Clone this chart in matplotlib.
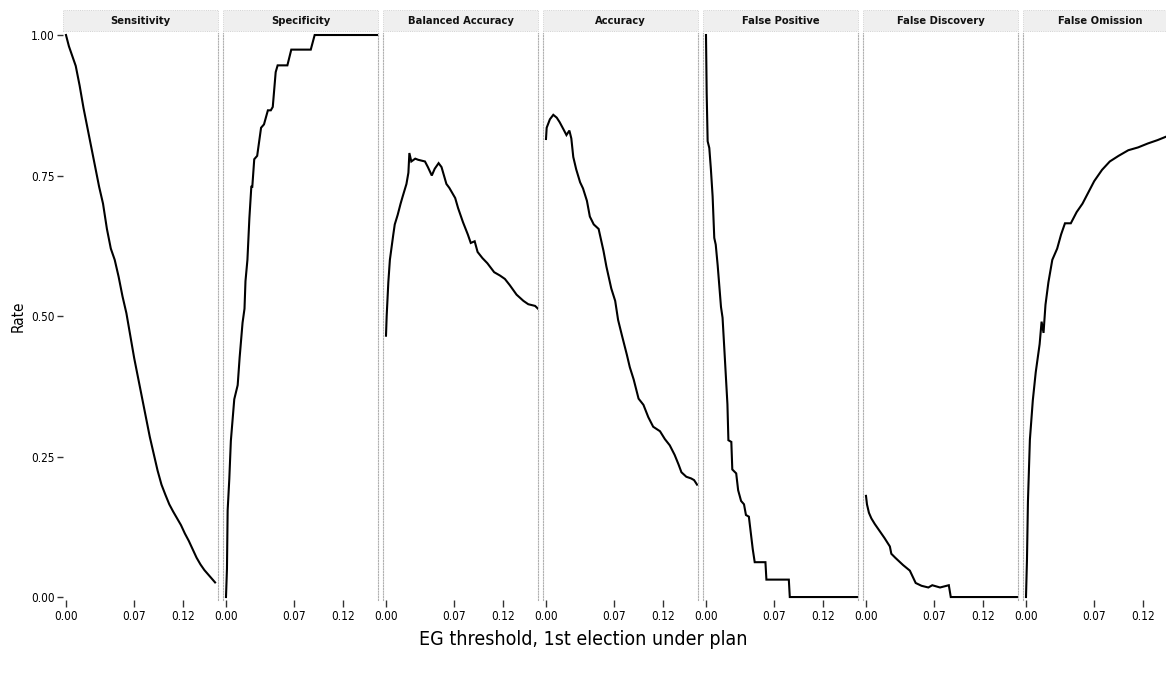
import matplotlib
matplotlib.use("Agg")
import matplotlib.pyplot as plt
from matplotlib.patches import Rectangle

plt.rcParams['font.family'] = ['DejaVu Sans']
plt.rcParams['font.stretch'] = 'condensed'

panels = ['Sensitivity', 'Specificity', 'Balanced Accuracy', 'Accuracy',
          'False Positive', 'False Discovery', 'False Omission']

sens_x = [0, .003, .006, .010, .014, .018, .022, .026, .030, .034, .038, .042, .046, .050,
          .054, .058, .062, .066, .070, .074, .078, .082, .086, .090, .094, .098, .102,
          .106, .110, .114, .118, .122, .126, .130, .134, .138, .142, .146, .150, .153]
sens_y = [1.0, .98, .965, .945, .91, .87, .835, .80, .765, .73, .70, .655, .62, .60,
          .57, .535, .505, .465, .425, .39, .355, .32, .285, .255, .225, .20, .182,
          .165, .152, .14, .128, .113, .10, .085, .07, .058, .048, .04, .032, .026]

spec_x = [0, .001, .0017, .0034, .005, .0085, .012, .014, .017, .019, .020, .022, .024, .026,
          .027, .029, .032, .036, .039, .043, .046, .048, .051, .053, .063, .067, .087, .091, .156]
spec_y = [0, .05, .154, .21, .278, .352, .377, .426, .488, .513, .562, .600, .674, .730,
          .730, .779, .785, .835, .841, .866, .866, .872, .934, .946, .946, .974, .974, 1.0, 1.0]

bal_x = [0, .0007, .0024, .004, .0075, .009, .012, .015, .017, .021, .023, .024, .026, .030,
         .033, .040, .043, .047, .050, .054, .057, .062, .065, .071, .074, .079, .084, .087,
         .091, .094, .099, .104, .111, .117, .122, .127, .134, .141, .146, .153, .156]
bal_y = [.465, .50, .56, .60, .645, .663, .68, .70, .712, .735, .755, .79, .775, .78,
         .778, .775, .765, .75, .762, .772, .765, .735, .728, .71, .692, .667, .645, .63,
         .633, .614, .603, .594, .578, .572, .566, .555, .538, .527, .521, .518, .513]

acc_x = [0, .0007, .004, .0075, .011, .014, .018, .021, .024, .026, .028, .031, .035, .038,
         .042, .045, .049, .054, .059, .062, .067, .071, .074, .078, .083, .086, .090, .095,
         .100, .105, .110, .117, .122, .127, .132, .136, .139, .144, .149, .152, .155]
acc_y = [.815, .835, .85, .858, .853, .845, .832, .822, .83, .816, .783, .761, .738, .727,
         .705, .677, .663, .655, .616, .588, .549, .527, .493, .465, .431, .409, .387, .353,
         .342, .32, .303, .295, .281, .27, .253, .236, .222, .214, .211, .208, .20]

fpos_x = [0, .0007, .0017, .0034, .005, .0068, .0085, .010, .012, .0137, .0154, .017, .019,
          .022, .023, .026, .027, .031, .033, .036, .039, .041, .044, .048, .050, .061, .062,
          .085, .086, .156]
fpos_y = [1.0, .897, .811, .799, .762, .713, .639, .627, .59, .553, .516, .497, .436,
          .343, .279, .276, .227, .22, .19, .171, .165, .146, .143, .085, .062, .062, .031,
          .031, 0, 0]

fdis_x = [0, .001, .003, .0055, .009, .013, .019, .0245, .026, .030, .038, .045, .051, .057,
          .064, .068, .076, .085, .087, .156]
fdis_y = [.18, .165, .15, .14, .13, .12, .105, .09, .077, .07, .057, .047, .025, .02,
          .017, .021, .017, .021, 0, 0]

fomi_x = [0, .001, .002, .004, .007, .010, .014, .016, .018, .020, .023, .027, .032, .036,
          .040, .046, .052, .058, .064, .070, .078, .086, .095, .105, .115, .125, .135, .145]
fomi_y = [0, .066, .17, .28, .35, .40, .45, .49, .47, .52, .56, .60, .62, .645,
          .665, .665, .685, .70, .72, .74, .76, .775, .785, .795, .80, .807, .813, .82]

series = [(sens_x, sens_y), (spec_x, spec_y), (bal_x, bal_y), (acc_x, acc_y),
          (fpos_x, fpos_y), (fdis_x, fdis_y), (fomi_x, fomi_y)]

x_ticks = [0, .07, .12]
x_labels = ['0.00', '0.07', '0.12']
y_ticks = [0, .25, .5, .75, 1.0]
y_labels = ['0.00', '0.25', '0.50', '0.75', '1.00']

fig, axes = plt.subplots(1, 7, figsize=(11.66, 6.83), dpi=100, sharey=True)
fig.subplots_adjust(left=0.054, right=1.0103, bottom=0.1215, top=0.9517, wspace=0.032)

for i, ax in enumerate(axes):
    xs, ys = series[i]
    ax.plot(xs, ys, color='black', lw=1.5, solid_joinstyle='miter')
    ax.set_xlim(-0.0031, 0.156)
    ax.set_ylim(-0.0053, 1.0036)
    ax.set_xticks(x_ticks)
    ax.set_xticklabels(x_labels, fontsize=8.5)
    ax.tick_params(axis='x', length=5, width=1, color='#333333', pad=2)
    ax.tick_params(axis='y', length=4, width=1, color='#333333', labelsize=8.5, pad=2)
    for side in ['top', 'bottom']:
        ax.spines[side].set_visible(False)
    for side in ['left', 'right']:
        ax.spines[side].set_color('#b0b0b0')
        ax.spines[side].set_linestyle((0, (1, 1.5)))
        ax.spines[side].set_linewidth(0.8)
    if i == 0:
        ax.spines['left'].set_visible(False)
        ax.set_yticks(y_ticks)
        ax.set_yticklabels(y_labels)
    else:
        ax.tick_params(axis='y', left=False)
    # facet strip
    ax.add_patch(Rectangle((0, 1.004), 1, 0.036, transform=ax.transAxes,
                           facecolor='#efefef', edgecolor='#c8c8c8', lw=0.6,
                           linestyle=':', clip_on=False))
    ax.text(0.5, 1.022, panels[i], transform=ax.transAxes, ha='center', va='center',
            fontsize=8, fontweight='bold', color='#111111')

axes[0].set_ylabel('Rate', fontsize=11, labelpad=4)
fig.text(0.5, 0.063, 'EG threshold, 1st election under plan', ha='center', va='center',
         fontsize=14)

fig.savefig('out.png', dpi=100)
